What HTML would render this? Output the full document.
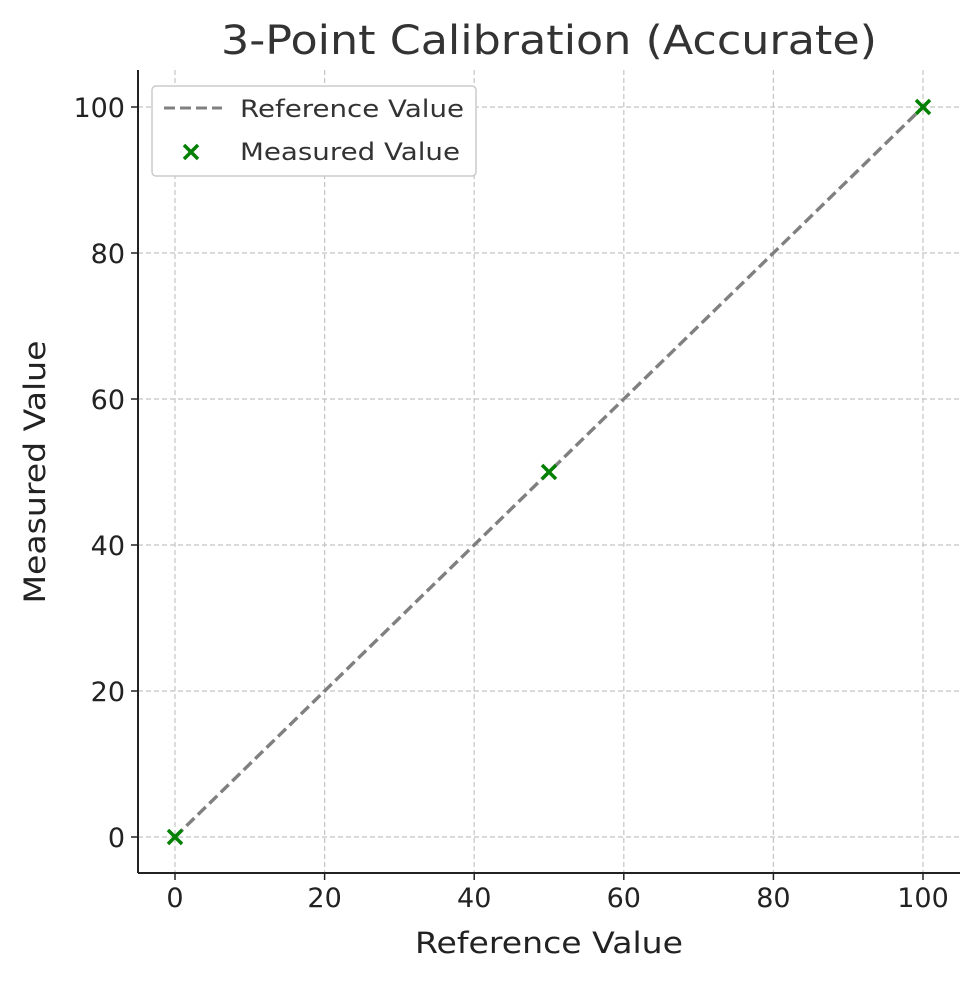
<!DOCTYPE html>
<html><head><meta charset="utf-8"><style>
body{margin:0;background:#fff;}
svg text{font-family:"DejaVu Sans","Liberation Sans",sans-serif;}
</style></head><body>
<svg id="chart" width="980" height="980" xmlns="http://www.w3.org/2000/svg">
<text x="549" y="54" font-size="40" fill="#333" text-anchor="middle" textLength="656" lengthAdjust="spacingAndGlyphs">3-Point Calibration (Accurate)</text>
<g id="grid"></g>
<g id="ticks"></g>
<g id="series"></g>
<line x1="138" y1="70" x2="138" y2="873" stroke="#222" stroke-width="2"/>
<line x1="138" y1="873" x2="960" y2="873" stroke="#222" stroke-width="2"/>
<text x="549" y="953" font-size="29" fill="#222" text-anchor="middle" textLength="268" lengthAdjust="spacingAndGlyphs">Reference Value</text>
<text transform="translate(45,472) rotate(-90)" font-size="29" fill="#222" text-anchor="middle" textLength="263" lengthAdjust="spacingAndGlyphs">Measured Value</text>
<g>
<rect x="152" y="86" width="324" height="90" rx="4" fill="#fff" stroke="#ccc" stroke-width="1.5"/>
<line x1="164" y1="108" x2="222" y2="108" stroke="#808080" stroke-width="3" stroke-dasharray="11,5"/>
<text x="240" y="117" font-size="24" fill="#333" textLength="224" lengthAdjust="spacingAndGlyphs">Reference Value</text>
<path d="M184,145 L198,159 M198,145 L184,159" stroke="green" stroke-width="3.5"/>
<text x="240" y="160" font-size="24" fill="#333" textLength="220" lengthAdjust="spacingAndGlyphs">Measured Value</text>
</g>
</svg>
<script>
const refValues=[0,50,100];
const measuredValues=[0,50,100];
const xTicks=[0,20,40,60,80,100];
const yTicks=[0,20,40,60,80,100];
const NS="http://www.w3.org/2000/svg";
function sx(v){return 175+(v)*7.48;}
function sy(v){return 837-(v)*7.3;}
function mk(tag,attrs,parent){const e=document.createElementNS(NS,tag);for(const k in attrs)e.setAttribute(k,attrs[k]);parent.appendChild(e);return e;}
const grid=document.getElementById('grid'),ticks=document.getElementById('ticks'),series=document.getElementById('series');
xTicks.forEach(t=>{
 const g=mk('line',{x1:sx(t),x2:sx(t),y1:70,y2:873,stroke:'#c4c4c4','stroke-width':1.2,'stroke-dasharray':'5,3'},grid);
 
 
 const tk=mk('line',{x1:sx(t),x2:sx(t),y1:873,y2:880,stroke:'#222','stroke-width':1.5},ticks);
 
 
 const tx=mk('text',{x:sx(t),y:907,'font-size':27,fill:'#222','text-anchor':'middle'},ticks);
 tx.textContent=t;
 
 
});
yTicks.forEach(t=>{
 const g=mk('line',{x1:138,x2:960,y1:sy(t),y2:sy(t),stroke:'#c4c4c4','stroke-width':1.2,'stroke-dasharray':'5,3'},grid);
 
 
 const tk=mk('line',{x1:131,x2:138,y1:sy(t),y2:sy(t),stroke:'#222','stroke-width':1.5},ticks);
 
 
 const tx=mk('text',{x:125,y:sy(t)+10,'font-size':27,fill:'#222','text-anchor':'end'},ticks);
 tx.textContent=t;
 
 
});
const lo=Math.min(...refValues),hi=Math.max(...refValues);
const ln=mk('line',{x1:sx(lo),y1:sy(lo),x2:sx(hi),y2:sy(hi),stroke:'#808080','stroke-width':3.4,'stroke-dasharray':'11,5'},series);


refValues.forEach((r,i)=>{
 const x=sx(r),y=sy(measuredValues[i]);
 const p=mk('path',{d:`M${x-7},${y-7} L${x+7},${y+7} M${x+7},${y-7} L${x-7},${y+7}`,stroke:'green','stroke-width':3.5},series);
 
 
});
</script>
</body></html>
